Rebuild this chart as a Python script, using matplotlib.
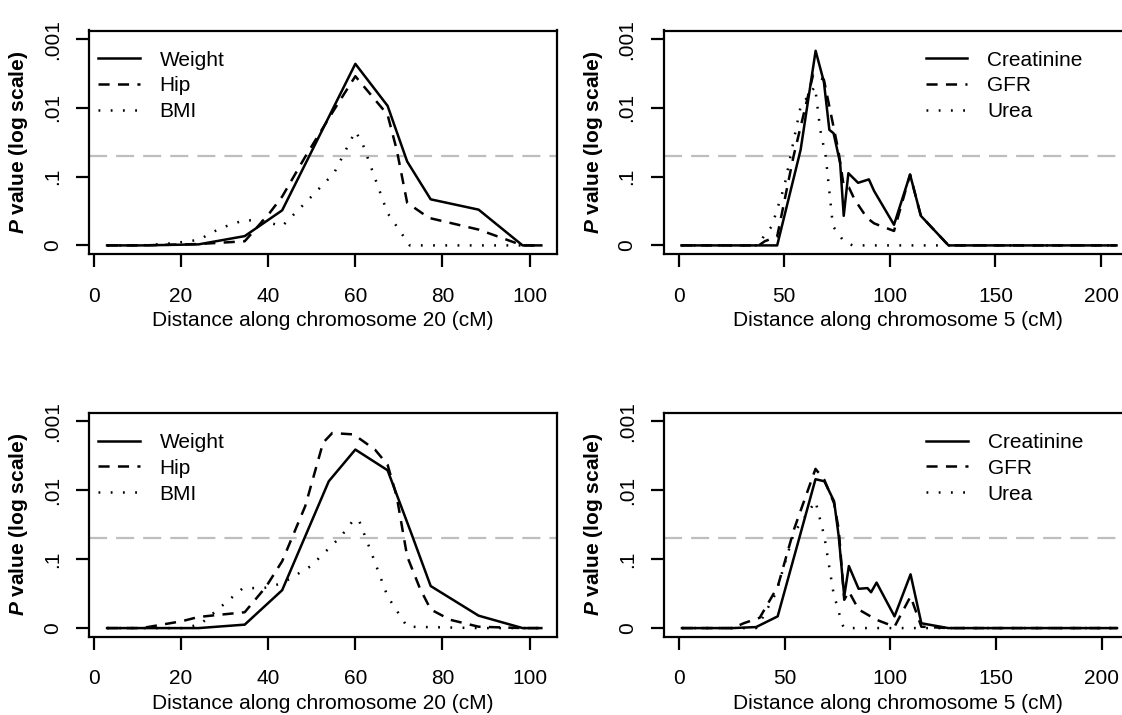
import matplotlib
matplotlib.use("Agg")
import matplotlib.pyplot as plt
import numpy as np

plt.rcParams['font.family'] = ['Liberation Sans', 'DejaVu Sans']
plt.rcParams['mathtext.fontset'] = 'custom'
plt.rcParams['mathtext.bfit'] = 'Liberation Sans:italic:bold'
plt.rcParams['mathtext.rm'] = 'Liberation Sans'
plt.rcParams['lines.scale_dashes'] = False

# ---------------- data ----------------
# chromosome 20, top panel
c20a_weight_x = [3, 11, 24, 34.6, 43.2, 60, 67.4, 71.9, 77.3, 88.3, 98.4, 102.7]
c20a_weight_y = [0, 0, 0.015, 0.135, 0.51, 2.64, 2.03, 1.22, 0.67, 0.52, 0, 0]
c20a_hip_x = [3, 11, 24, 34.6, 40.3, 43.2, 48.5, 55.1, 60, 67.4, 69.5, 71.9, 76.9, 88.3, 98.4, 102.7]
c20a_hip_y = [0, 0, 0.02, 0.06, 0.47, 0.71, 1.29, 1.97, 2.46, 1.9, 1.39, 0.62, 0.4, 0.23, 0, 0]
c20a_bmi_x = [3, 11, 18, 24, 29, 34.6, 39, 43.2, 49, 55.1, 60, 61.6, 67.4, 72.5, 88.3, 98.4, 102.7]
c20a_bmi_y = [0, 0, 0.03, 0.08, 0.25, 0.37, 0.35, 0.28, 0.65, 1.05, 1.66, 1.49, 0.47, 0, 0, 0, 0]

# chromosome 5, top panel
c5a_creat_x = [1.4, 46.7, 57.8, 64.9, 68.8, 71.4, 73.4, 76.5, 78.2, 80.4, 85, 90.1, 92.6,
               102, 109.6, 114.7, 127.8, 207.3]
c5a_creat_y = [0, 0, 1.39, 2.83, 2.38, 1.68, 1.63, 1.2, 0.43, 1.05, 0.91, 0.96, 0.79,
               0.3, 1.03, 0.43, 0, 0]
c5a_gfr_x = [1.4, 38, 40.8, 46.7, 54.4, 63.7, 68.8, 73, 75.6, 78.2, 80.7, 83.3, 89.2, 92.6,
             102, 109.6, 114.7, 127.8, 207.3]
c5a_gfr_y = [0, 0, 0.06, 0.13, 1.29, 2.48, 2.41, 1.78, 1.39, 0.86, 0.84, 0.67, 0.4, 0.32,
             0.21, 1.03, 0.43, 0, 0]
c5a_urea_x = [1.4, 38, 39.9, 44.2, 50.1, 57.8, 64.6, 67.1, 69.7, 73.1, 78.2, 82.4, 207.3]
c5a_urea_y = [0, 0, 0.11, 0.28, 0.86, 2.02, 2.31, 1.68, 1.29, 0.28, 0.06, 0, 0]

# chromosome 20, bottom panel
c20b_weight_x = [3, 11, 24, 34.6, 43.2, 53.9, 60, 67.4, 72.7, 77.3, 88.3, 98.4, 102.7]
c20b_weight_y = [0, 0, 0, 0.05, 0.55, 2.13, 2.59, 2.29, 1.4, 0.61, 0.18, 0, 0]
c20b_hip_x = [3, 11, 12.8, 20.2, 23.9, 26.8, 34.6, 39.5, 43.2, 48.5, 52.6, 54.7, 59.6, 64.5,
              67.4, 69.5, 71.9, 74.8, 77.3, 81.8, 88.3, 98.4, 102.7]
c20b_hip_y = [0, 0, 0.02, 0.1, 0.16, 0.18, 0.23, 0.6, 0.97, 1.77, 2.69, 2.83, 2.81, 2.59,
              2.37, 1.91, 1.04, 0.58, 0.27, 0.12, 0.02, 0, 0]
c20b_bmi_x = [3, 11, 20.2, 24.3, 28.4, 34.2, 39, 43.2, 49.8, 56.7, 59.6, 60.8, 63.7, 67.4,
              71.9, 88.3, 98.4, 102.7]
c20b_bmi_y = [0, 0, 0, 0.05, 0.27, 0.58, 0.58, 0.65, 0.9, 1.33, 1.57, 1.57, 1.09, 0.46,
              0.02, 0, 0, 0]

# chromosome 5, bottom panel
c5b_creat_x = [1.4, 25.5, 36.5, 46.7, 64.6, 68.8, 73.4, 75.6, 78.2, 80.4, 85, 89.2, 90.9,
               93.5, 102, 109.6, 114.7, 127.4, 207.3]
c5b_creat_y = [0, 0, 0.015, 0.17, 2.16, 2.13, 1.84, 1.33, 0.46, 0.9, 0.57, 0.58, 0.52,
               0.66, 0.17, 0.78, 0.07, 0, 0]
c5b_gfr_x = [1.4, 25.5, 30.6, 38.2, 46.7, 54.4, 64.6, 68.8, 73.4, 75.6, 78.2, 80.4, 85,
             93.5, 102, 109.6, 114.7, 127.4, 207.3]
c5b_gfr_y = [0, 0, 0.07, 0.15, 0.6, 1.43, 2.31, 2.15, 1.81, 1.43, 0.41, 0.53, 0.27,
             0.12, 0.02, 0.46, 0.02, 0, 0]
c5b_urea_x = [1.4, 36.5, 39, 45.9, 54.4, 64.6, 68.8, 73.1, 77.3, 78.2, 114.7, 207.3]
c5b_urea_y = [0, 0, 0.12, 0.51, 1.38, 1.84, 1.33, 0.51, 0.05, 0, 0, 0]

ytick_vals = [0, 1, 2, 3]
ytick_labels = ['0', '.1', '.01', '.001']
xticks_c20 = [0, 20, 40, 60, 80, 100]
xticks_c5 = [0, 50, 100, 150, 200]
threshold = -np.log10(0.05)
labels_c20 = ['Weight', 'Hip', 'BMI']
labels_c5 = ['Creatinine', 'GFR', 'Urea']

# ---------------- figure ----------------
W, H = 1122, 715
fig = plt.figure(figsize=(W / 100, H / 100), dpi=100)

def fx(px):
    return px / W

def fy(px):
    return 1 - px / H

axw = 468
boxes = {
    'tl': (89, 30.5, 254),
    'tr': (663.5, 30.5, 254),
    'bl': (89, 412.7, 636.7),
    'br': (664, 412.7, 636.7),
}

FS = 15
LW = 1.8
styles = [dict(ls='-'), dict(ls=(0, (8, 6))), dict(ls=(0, (1.3, 7.5)))]


def make_ax(key):
    x0, ytop, ybot = boxes[key]
    ax = fig.add_axes([fx(x0), fy(ybot), axw / W, (ybot - ytop) / H])
    for s in ax.spines.values():
        s.set_linewidth(1.6)
    ax.tick_params(axis='both', direction='out', length=9.5, width=1.6,
                   labelsize=FS, color='black')
    ax.tick_params(axis='x', pad=14)
    ax.tick_params(axis='y', pad=10)
    ax.set_yticks(ytick_vals)
    ax.set_yticklabels(ytick_labels, rotation=90, va='center')
    ax.set_ylim(-0.125, 3.125)
    ax.axhline(threshold, color='#BEBEBE', lw=1.6, ls=(0, (13, 6.5)), zorder=1)
    ax.set_ylabel(r'$\mathbfit{P}$ value (log scale)', fontsize=FS,
                  fontweight='bold', labelpad=9)
    return ax


def draw(ax, series, labels, xt, xlim, xlabel, leg_x):
    for (xs, ys), st, lab in zip(series, styles, labels):
        ax.plot(xs, ys, color='black', lw=LW, label=lab, zorder=3, **st)
    ax.set_xticks(xt)
    ax.set_xlim(*xlim)
    ax.set_xlabel(xlabel, fontsize=FS, labelpad=4)
    ax.legend(loc='upper left', bbox_to_anchor=(leg_x, 0.91), frameon=False,
              fontsize=FS, handlelength=2.0, handletextpad=0.96,
              labelspacing=0.33, borderpad=0, borderaxespad=0)


ax = make_ax('tl')
draw(ax, [(c20a_weight_x, c20a_weight_y), (c20a_hip_x, c20a_hip_y), (c20a_bmi_x, c20a_bmi_y)],
     labels_c20, xticks_c20, (-1.15, 106.3), 'Distance along chromosome 20 (cM)', 0.019)

ax = make_ax('tr')
draw(ax, [(c5a_creat_x, c5a_creat_y), (c5a_gfr_x, c5a_gfr_y), (c5a_urea_x, c5a_urea_y)],
     labels_c5, xticks_c5, (-7.1, 214.4), 'Distance along chromosome 5 (cM)', 0.56)

ax = make_ax('bl')
draw(ax, [(c20b_weight_x, c20b_weight_y), (c20b_hip_x, c20b_hip_y), (c20b_bmi_x, c20b_bmi_y)],
     labels_c20, xticks_c20, (-1.15, 106.3), 'Distance along chromosome 20 (cM)', 0.019)

ax = make_ax('br')
draw(ax, [(c5b_creat_x, c5b_creat_y), (c5b_gfr_x, c5b_gfr_y), (c5b_urea_x, c5b_urea_y)],
     labels_c5, xticks_c5, (-7.1, 214.4), 'Distance along chromosome 5 (cM)', 0.56)

fig.savefig('out.png', dpi=100)
